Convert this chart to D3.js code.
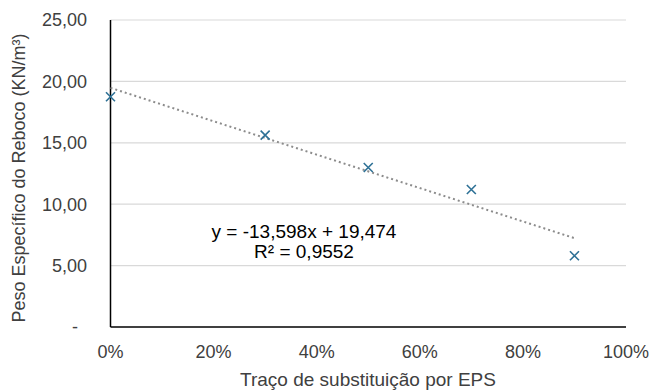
<!DOCTYPE html>
<html>
<head>
<meta charset="utf-8">
<script src="https://cdn.jsdelivr.net/npm/d3@7"></script>
<style>
  body { margin: 0; background: #fff; }
  svg { font-family: "Liberation Sans", Arial, sans-serif; }
</style>
</head>
<body>
<svg id="chart" width="652" height="390"></svg>
<script>
// data
const xValues = [0, 0.3, 0.5, 0.7, 0.9];
const yValues = [18.75, 15.62, 12.99, 11.20, 5.80];
const yTicks = [0, 5, 10, 15, 20, 25];
const xTicks = [0, 0.2, 0.4, 0.6, 0.8, 1.0];
const trendSlope = -13.598;
const trendIntercept = 19.474;
const equationLines = ['y = -13,598x + 19,474', 'R² = 0,9552'];

const svg = d3.select('svg#chart');

const plotLeft = 110.5, plotRight = 626, plotTop = 20, plotBottom = 327;
const markerColor = '#2e7196',
    trendColor = '#8c8c8c',
    gridColor = '#d9d9d9',
    textColor = '#404040',
    tickFont = 18,
    titleFont = 19;

const x = d3.scaleLinear().domain([0, 1]).range([plotLeft, plotRight]);
const y = d3.scaleLinear().domain([0, 25]).range([plotBottom, plotTop]);

const fmtY = d => d === 0 ? '-' : d3.format('.2f')(d).replace('.', ',');

// gridlines
svg.append('g')
    .selectAll('line')
    .data(yTicks.filter(d => d > 0))
    .join('line')
    .attr('x1', plotLeft).attr('x2', plotRight)
    .attr('y1', d => y(d)).attr('y2', d => y(d))
    .attr('stroke', gridColor)
    .attr('stroke-width', 1.2);

// y tick labels
svg.append('g')
    .selectAll('text')
    .data(yTicks)
    .join('text')
    .attr('x', d => d === 0 ? 78 : 87)
    .attr('y', d => y(d))
    .attr('dy', '0.35em')
    .attr('text-anchor', 'end')
    .attr('font-size', tickFont)
    .attr('fill', textColor)
    .text(fmtY);

// x tick labels
svg.append('g')
    .selectAll('text')
    .data(xTicks)
    .join('text')
    .attr('x', d => x(d))
    .attr('y', 358)
    .attr('text-anchor', 'middle')
    .attr('font-size', tickFont)
    .attr('fill', textColor)
    .text(d => Math.round(d * 100) + '%');

// axis lines
svg.append('line')
    .attr('x1', plotLeft).attr('x2', plotLeft)
    .attr('y1', plotTop).attr('y2', plotBottom)
    .attr('stroke', '#000').attr('stroke-width', 1.5);
svg.append('line')
    .attr('x1', plotLeft).attr('x2', plotRight)
    .attr('y1', plotBottom).attr('y2', plotBottom)
    .attr('stroke', '#000').attr('stroke-width', 1.5);

// trendline over the data range
const xMin = d3.min(xValues), xMax = d3.max(xValues);
svg.append('line')
    .attr('x1', x(xMin)).attr('y1', y(trendIntercept + trendSlope * xMin))
    .attr('x2', x(xMax)).attr('y2', y(trendIntercept + trendSlope * xMax))
    .attr('stroke', trendColor)
    .attr('stroke-width', 2)
    .attr('stroke-dasharray', '2,3');

// markers
const m = 4.5;
const points = xValues.map((v, i) => ({ x: v, y: yValues[i] }));
svg.append('g')
    .selectAll('path')
    .data(points)
    .join('path')
    .attr('d', d => {
        const cx = x(d.x), cy = y(d.y);
        return `M${cx - m},${cy - m}L${cx + m},${cy + m}M${cx - m},${cy + m}L${cx + m},${cy - m}`;
    })
    .attr('stroke', markerColor)
    .attr('stroke-width', 1.6)
    .attr('fill', 'none');

// equation
svg.append('g')
    .selectAll('text')
    .data(equationLines)
    .join('text')
    .attr('x', 304)
    .attr('y', (d, i) => 238 + i * 20)
    .attr('text-anchor', 'middle')
    .attr('font-size', titleFont)
    .attr('fill', '#000')
    .text(d => d);

// axis titles
svg.append('text')
    .attr('x', 368)
    .attr('y', 386)
    .attr('text-anchor', 'middle')
    .attr('font-size', titleFont)
    .attr('fill', textColor)
    .text('Traço de substituição por EPS');

svg.append('text')
    .attr('transform', 'translate(25,178) rotate(-90)')
    .attr('text-anchor', 'middle')
    .attr('font-size', 18)
    .attr('fill', textColor)
    .text('Peso Específico do Reboco (KN/m³)');
</script>
</body>
</html>
